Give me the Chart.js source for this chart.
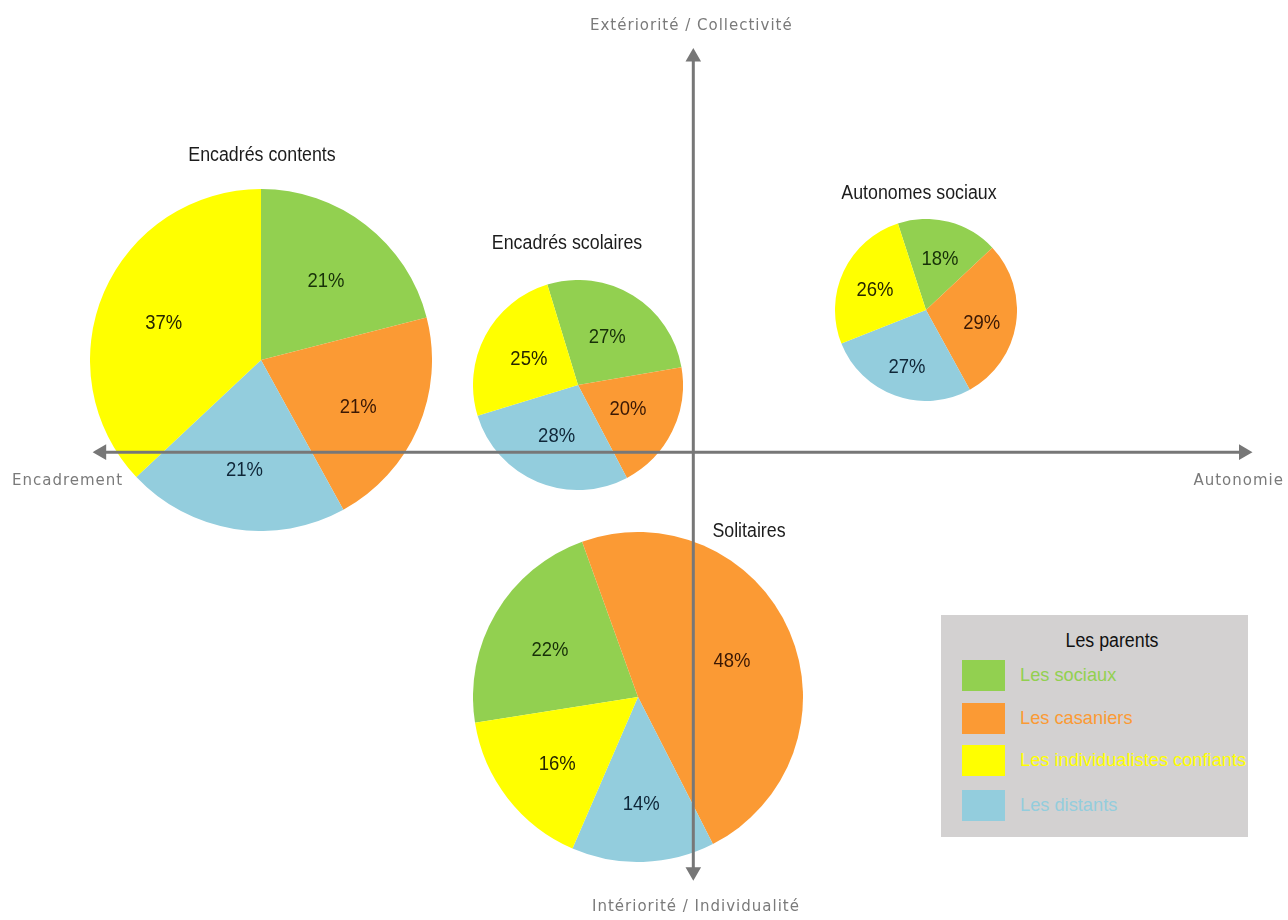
<!DOCTYPE html>
<html lang="fr">
<head>
<meta charset="UTF-8">
<title>Les parents</title>
<script src="https://cdn.jsdelivr.net/npm/chart.js"></script>
<style>
  body { margin: 0; background: #fff; }
  #stage { position: relative; width: 1288px; height: 920px; overflow: hidden; }
  #stage canvas { position: absolute; }
  .axlab { position: absolute; font-family: "DejaVu Sans", Verdana, sans-serif; font-size: 15px; letter-spacing: 1px; color: #7a7a7a; white-space: nowrap; }
  .ptitle { position: absolute; font-family: "Liberation Sans", Arial, sans-serif; font-size: 20px; color: #1c1c1c; white-space: nowrap; transform: translateX(-50%) scaleX(0.89); }
  #legend { position: absolute; left: 941px; top: 615px; width: 307px; height: 222px; background: #d3d1d1; font-family: "Liberation Sans", Arial, sans-serif; }
  #legend .lt { position: absolute; left: 171px; top: 14px; font-size: 20px; color: #111; white-space: nowrap; transform: translateX(-50%) scaleX(0.89); }
  #legend .row { position: absolute; left: 21px; height: 31px; }
  #legend .sw { position: absolute; left: 0; top: 0; width: 43px; height: 31px; }
  #legend .tx { position: absolute; left: 58px; top: 4px; font-size: 19px; white-space: nowrap; transform-origin: 0 50%; transform: scaleX(0.96); }
</style>
</head>
<body>
<div id="stage">
  <canvas id="pie0"></canvas>
  <canvas id="pie1"></canvas>
  <canvas id="pie2"></canvas>
  <canvas id="pie3"></canvas>
  <canvas id="axes" width="1288" height="920" style="left:0;top:0;pointer-events:none"></canvas>
  <div class="axlab" style="left:590px;top:16px">Extériorité / Collectivité</div>
  <div class="axlab" style="left:592px;top:897px">Intériorité / Individualité</div>
  <div class="axlab" style="left:12px;top:471px">Encadrement</div>
  <div class="axlab" style="right:4px;top:471px">Autonomie</div>
  <div id="legend"><div class="lt">Les parents</div></div>
</div>
<script>
// groups (one pie each)
const groups = ['Encadrés contents', 'Encadrés scolaires', 'Autonomes sociaux', 'Solitaires'];
// parent types (legend order)
const categories = ['Les sociaux', 'Les casaniers', 'Les individualistes confiants', 'Les distants'];
// shares in % per group
const sociaux = [21, 27, 18, 22];
const casaniers = [21, 20, 29, 48];
const individualistes = [37, 25, 26, 16];
const distants = [21, 28, 27, 14];

const colors = ['#92d050', '#fb9a34', '#ffff00', '#93cddd'];
const labelColors = ['#173008', '#3a1804', '#262600', '#0f2638'];
const series = [sociaux, casaniers, individualistes, distants];
// clockwise slice order: sociaux, casaniers, distants, individualistes
const sliceOrder = [0, 1, 3, 2];

// layout of each pie: center, radius, rotation of first slice, label distance / shift
const pieLayout = [
  { cx: 261, cy: 360, r: 171, rot: 0,   lr: 0.62, dy: 5, title: [262, 143] },
  { cx: 578, cy: 385, r: 105, rot: -17, lr: 0.53, dy: 0, title: [567, 231] },
  { cx: 926, cy: 310, r: 91,  rot: -18, lr: 0.62, dy: 4, title: [919, 181] },
  { cx: 638, cy: 697, r: 165, rot: -99, lr: 0.62, dy: 5, title: [749, 519] }
];

const pctLabels = {
  id: 'pctLabels',
  afterDatasetsDraw(chart, args, opts) {
    const ctx = chart.ctx;
    const ds = chart.data.datasets[0];
    ctx.save();
    ctx.font = '21px "Liberation Sans", Arial, sans-serif';
    ctx.textAlign = 'center';
    ctx.textBaseline = 'middle';
    chart.getDatasetMeta(0).data.forEach((arc, i) => {
      const p = arc.getProps(['x', 'y', 'startAngle', 'endAngle', 'outerRadius']);
      const a = (p.startAngle + p.endAngle) / 2;
      const d = p.outerRadius * opts.lr;
      ctx.save();
      ctx.translate(p.x + Math.cos(a) * d, p.y + Math.sin(a) * d + opts.dy);
      ctx.scale(0.88, 1);
      ctx.fillStyle = ds.labelColors[i];
      ctx.fillText(ds.data[i] + '%', 0, 0);
      ctx.restore();
    });
    ctx.restore();
  }
};

groups.forEach((g, gi) => {
  const L = pieLayout[gi];
  const cv = document.getElementById('pie' + gi);
  cv.width = 2 * L.r;
  cv.height = 2 * L.r;
  cv.style.left = (L.cx - L.r) + 'px';
  cv.style.top = (L.cy - L.r) + 'px';
  const t = document.createElement('div');
  t.className = 'ptitle';
  t.textContent = g;
  t.style.left = L.title[0] + 'px';
  t.style.top = L.title[1] + 'px';
  document.getElementById('stage').appendChild(t);
  new Chart(cv, {
    type: 'pie',
    data: {
      labels: sliceOrder.map(k => categories[k]),
      datasets: [{
        data: sliceOrder.map(k => series[k][gi]),
        backgroundColor: sliceOrder.map(k => colors[k]),
        labelColors: sliceOrder.map(k => labelColors[k]),
        borderWidth: 0
      }]
    },
    options: {
      responsive: false,
      animation: false,
      rotation: L.rot,
      layout: { padding: 0 },
      plugins: {
        legend: { display: false },
        tooltip: { enabled: false },
        pctLabels: { lr: L.lr, dy: L.dy }
      }
    },
    plugins: [pctLabels]
  });
});

// quadrant axes
const axisColor = '#777777';
new Chart(document.getElementById('axes'), {
  type: 'scatter',
  data: {
    datasets: [
      {
        data: [{ x: -600, y: 0 }, { x: 558, y: 0 }],
        showLine: true,
        borderColor: axisColor,
        borderWidth: 3,
        pointStyle: 'triangle',
        pointRadius: 6,
        pointRotation: [-90, 90],
        pointBackgroundColor: axisColor,
        pointBorderColor: axisColor
      },
      {
        data: [{ x: 0, y: 403 }, { x: 0, y: -428 }],
        showLine: true,
        borderColor: axisColor,
        borderWidth: 3,
        pointStyle: 'triangle',
        pointRadius: 6,
        pointRotation: [0, 180],
        pointBackgroundColor: axisColor,
        pointBorderColor: axisColor
      }
    ]
  },
  options: {
    responsive: false,
    animation: false,
    layout: { padding: 0 },
    scales: {
      x: { type: 'linear', min: -694, max: 594, display: false },
      y: { type: 'linear', min: -468, max: 452, display: false }
    },
    plugins: { legend: { display: false }, tooltip: { enabled: false } }
  }
});

// legend box
const lg = document.getElementById('legend');
const rowTops = [45, 88, 130, 175];
categories.forEach((c, i) => {
  const row = document.createElement('div');
  row.className = 'row';
  row.style.top = rowTops[i] + 'px';
  row.innerHTML = '<div class="sw" style="background:' + colors[i] + '"></div>' +
    '<div class="tx" style="color:' + colors[i] + '">' + c + '</div>';
  lg.appendChild(row);
});
</script>
</body>
</html>
